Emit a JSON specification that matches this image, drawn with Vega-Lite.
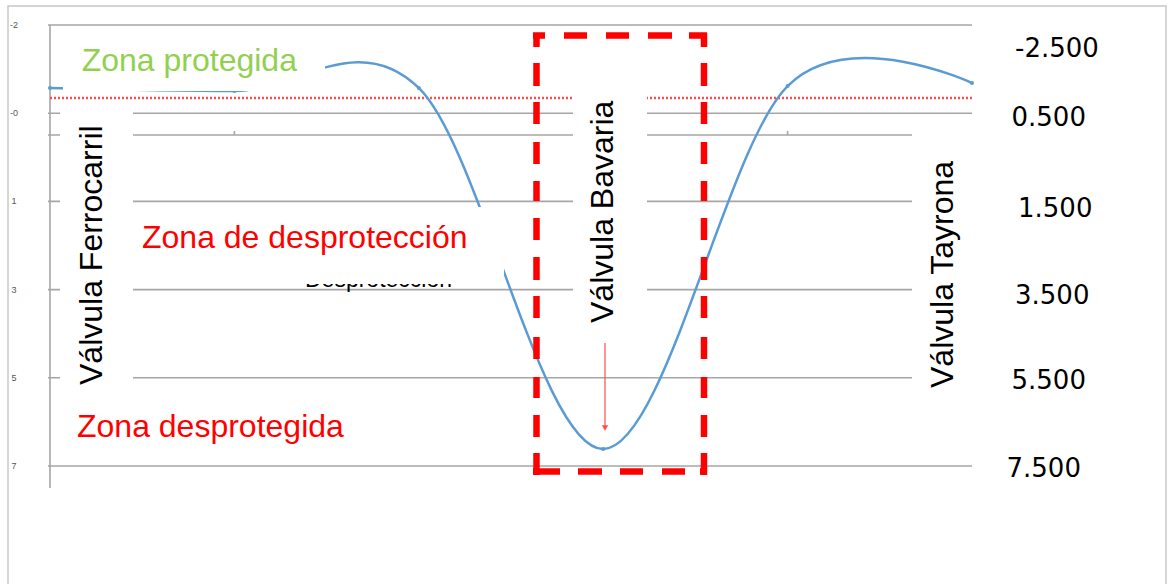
{
  "$schema": "https://vega.github.io/schema/vega-lite/v6.json",
  "width": 1168,
  "height": 584,
  "padding": 0,
  "autosize": {"type": "none"},
  "background": "white",
  "config": {"view": {"stroke": null}},
  "datasets": {
    "grid": [
      {"x": -0.0108, "x2": 5.0, "y": 0},
      {"x": -0.0108, "x2": 5.0, "y": 1},
      {"x": -0.0108, "x2": 5.0, "y": 1.2472},
      {"x": -0.0108, "x2": 5.0, "y": 2},
      {"x": -0.0108, "x2": 5.0, "y": 3},
      {"x": -0.0108, "x2": 5.0, "y": 4},
      {"x": -0.0108, "x2": 5.0, "y": 5}
    ],
    "axis": [
      {"x": 0, "y": 0, "y2": 5.2494},
      {"x": 1, "y": 1.2018, "y2": 1.2472},
      {"x": 4, "y": 1.2018, "y2": 1.2472}
    ],
    "limite": [{"x": 0, "x2": 5.0, "y": 0.8277}],
    "curve": [
      {"x": 0, "y": 0.714},
      {"x": 1, "y": 0.748},
      {"x": 2, "y": 0.714},
      {"x": 3, "y": 4.807},
      {"x": 4, "y": 0.692},
      {"x": 5, "y": 0.658}
    ],
    "hidden": [{"x": 1.3829, "y": 2.9649, "label": "Desprotección"}],
    "boxes": [
      {"x": 0.0705, "x2": 1.4913, "y": 0.0567, "y2": 0.7483},
      {"x": 0.0542, "x2": 0.4501, "y": 0.8844, "y2": 4.1383},
      {"x": 2.8362, "x2": 3.2375, "y": 0.737, "y2": 3.5147},
      {"x": 4.6746, "x2": 5.0217, "y": 1.0771, "y2": 4.195},
      {"x": 0.4501, "x2": 2.462, "y": 2.0635, "y2": 2.9365}
    ],
    "zonas": [
      {"x": 0.1719, "y": 0.5215, "label": "Zona protegida", "tipo": "protegida"},
      {"x": 0.4989, "y": 2.5283, "label": "Zona de desprotección", "tipo": "desprotegida"},
      {"x": 0.1464, "y": 4.6712, "label": "Zona desprotegida", "tipo": "desprotegida"}
    ],
    "valvulas": [
      {"x": 0.2804, "y": 4.0816, "label": "Válvula Ferrocarril"},
      {"x": 3.0558, "y": 3.3787, "label": "Válvula Bavaria"},
      {"x": 4.897, "y": 4.1156, "label": "Válvula Tayrona"}
    ],
    "marcoH": [
      {"x": 2.6193, "x2": 3.5629, "y": 0.119, "lado": "arriba"},
      {"x": 2.6193, "x2": 3.5629, "y": 5.0624, "lado": "abajo"}
    ],
    "marcoV": [
      {"x": 2.6383, "y": 0.0907, "y2": 5.102},
      {"x": 3.5466, "y": 0.0907, "y2": 5.102}
    ],
    "flecha": [{"x": 3.0098, "y": 3.6054, "y2": 4.5465}],
    "punta": [{"x": 3.0098, "y": 4.5692}],
    "niveles": [
      {"x": 5.2332, "y": 0.3594, "label": "-2.500"},
      {"x": 5.2142, "y": 1.1451, "label": "0.500"},
      {"x": 5.2495, "y": 2.1825, "label": "1.500"},
      {"x": 5.2332, "y": 3.1689, "label": "3.500"},
      {"x": 5.2142, "y": 4.1304, "label": "5.500"},
      {"x": 5.1871, "y": 5.1213, "label": "7.500"}
    ],
    "izq": [
      {"x": -0.1952, "y": 0, "label": "-2"},
      {"x": -0.1952, "y": 1, "label": "-0"},
      {"x": -0.1952, "y": 2, "label": "1"},
      {"x": -0.1952, "y": 3, "label": "3"},
      {"x": -0.1952, "y": 4, "label": "5"},
      {"x": -0.1952, "y": 5, "label": "7"}
    ],
    "borde": [{"x": -0.2278, "x2": 6.0521, "y": -0.2154, "y2": 6.5193}]
  },
  "encoding": {
    "x": {"field": "x", "type": "quantitative", "scale": {"domain": [-0.27115, 6.06291], "nice": false, "zero": false}, "axis": null},
    "y": {"field": "y", "type": "quantitative", "scale": {"domain": [-0.28345, 6.33787], "nice": false, "zero": false, "reverse": true}, "axis": null}
  },
  "layer": [
    {
      "data": {"name": "grid"},
      "mark": {"type": "rule", "color": "#a6a6a6", "strokeWidth": 1.6},
      "encoding": {"x2": {"field": "x2"}}
    },
    {
      "data": {"name": "axis"},
      "mark": {"type": "rule", "color": "#a6a6a6", "strokeWidth": 1.6},
      "encoding": {"y2": {"field": "y2"}}
    },
    {
      "data": {"name": "limite"},
      "mark": {"type": "rule", "color": "#ff4d4d", "strokeWidth": 2.5, "strokeDash": [2, 2]},
      "encoding": {"x2": {"field": "x2"}}
    },
    {
      "data": {"name": "curve"},
      "mark": {"type": "line", "interpolate": "cardinal", "tension": 0, "color": "#5b9bd5", "strokeWidth": 2.5},
      "encoding": {}
    },
    {
      "data": {"name": "curve"},
      "mark": {"type": "point", "filled": true, "size": 16, "color": "#5b9bd5", "opacity": 1},
      "encoding": {}
    },
    {
      "data": {"name": "hidden"},
      "mark": {"type": "text", "font": "Liberation Sans", "fontSize": 23, "align": "left", "baseline": "alphabetic", "color": "#000000"},
      "encoding": {"text": {"field": "label"}}
    },
    {
      "data": {"name": "boxes"},
      "mark": {"type": "rect", "fill": "#ffffff", "stroke": null},
      "encoding": {"x2": {"field": "x2"}, "y2": {"field": "y2"}}
    },
    {
      "data": {"name": "zonas"},
      "mark": {"type": "text", "font": "Liberation Sans", "fontSize": 32, "align": "left", "baseline": "alphabetic"},
      "encoding": {
        "text": {"field": "label"},
        "color": {"field": "tipo", "type": "nominal", "scale": {"domain": ["protegida", "desprotegida"], "range": ["#92d050", "#ff0000"]}, "legend": null}
      }
    },
    {
      "data": {"name": "valvulas"},
      "mark": {"type": "text", "font": "Liberation Sans", "fontSize": 32, "align": "left", "baseline": "alphabetic", "angle": 270, "color": "#000000"},
      "encoding": {"text": {"field": "label"}}
    },
    {
      "data": {"name": "marcoH"},
      "mark": {"type": "rule", "color": "#ff0000", "strokeWidth": 6.5, "strokeCap": "butt"},
      "encoding": {
        "x2": {"field": "x2"},
        "strokeDash": {"field": "lado", "type": "nominal", "scale": {"domain": ["arriba", "abajo"], "range": [[12, 19, 23, 19, 23, 19, 24, 17, 18], [27, 18, 24, 18, 23, 19, 23, 15, 7]]}, "legend": null}
      }
    },
    {
      "data": {"name": "marcoV"},
      "mark": {"type": "rule", "color": "#ff0000", "strokeWidth": 6.5, "strokeCap": "butt", "strokeDash": [14, 16, 23, 16, 22, 18, 22, 17, 20, 17, 22, 17, 23, 16, 22, 19, 22, 18, 21, 17, 22, 16, 22, 50]},
      "encoding": {"y2": {"field": "y2"}}
    },
    {
      "data": {"name": "flecha"},
      "mark": {"type": "rule", "color": "#ff4d4d", "strokeWidth": 1.2},
      "encoding": {"y2": {"field": "y2"}}
    },
    {
      "data": {"name": "punta"},
      "mark": {"type": "point", "shape": "triangle-down", "filled": true, "size": 40, "color": "#ff4d4d", "opacity": 1},
      "encoding": {}
    },
    {
      "data": {"name": "niveles"},
      "mark": {"type": "text", "font": "DejaVu Sans", "fontSize": 26, "align": "left", "baseline": "alphabetic", "color": "#000000"},
      "encoding": {"text": {"field": "label"}}
    },
    {
      "data": {"name": "izq"},
      "mark": {"type": "text", "font": "Liberation Sans", "fontSize": 9, "align": "center", "baseline": "middle", "color": "#555555"},
      "encoding": {"text": {"field": "label"}}
    },
    {
      "data": {"name": "borde"},
      "mark": {"type": "rect", "fill": "transparent", "stroke": "#c8c8c8", "strokeWidth": 1.5, "clip": true},
      "encoding": {"x2": {"field": "x2"}, "y2": {"field": "y2"}}
    }
  ]
}
